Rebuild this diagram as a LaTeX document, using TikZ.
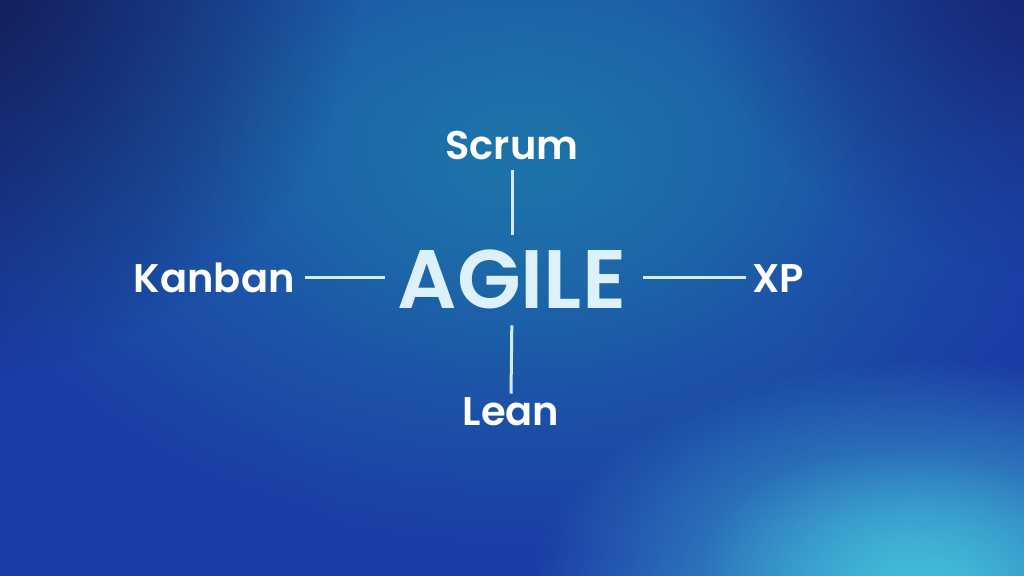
\documentclass[tikz,border=0pt]{standalone}
\usepackage{fontspec}
\setmainfont{Poppins}[UprightFont={Poppins SemiBold}]
\usetikzlibrary{fadings}
\tikzfading[name=glowfade, inner color=transparent!0, outer color=transparent!100]
\definecolor{bgbase}{HTML}{1B3CA5}
\definecolor{navydark}{HTML}{11184A}
\definecolor{navyright}{HTML}{161E66}
\definecolor{tealmid}{HTML}{1E74AA}
\definecolor{cyanglow}{HTML}{45C4DC}
\definecolor{linecol}{HTML}{D4ECFA}
\definecolor{agilecol}{HTML}{DDF1FC}
\tikzset{
  lbl/.style={font=\fontsize{20}{24}\selectfont, text=white, inner sep=0pt, text height=15pt, text depth=0pt},
  big/.style={font=\fontsize{41.5}{48}\selectfont, text=agilecol, inner sep=0pt, text height=31pt, text depth=0pt},
  conn/.style={draw=linecol, line width=1.5pt}
}
\begin{document}
\begin{tikzpicture}[x=0.5pt,y=-0.5pt]
\useasboundingbox (0,0) rectangle (1024,576);
% background
\fill[bgbase] (0,0) rectangle (1024,576);
\begin{scope}
\clip (0,0) rectangle (1024,576);
\fill[tealmid, path fading=glowfade] (520,160) ellipse (600 and 400);
\fill[tealmid, path fading=glowfade, opacity=0.6] (520,140) ellipse (340 and 240);
\fill[navydark, path fading=glowfade, opacity=0.95] (-60,-40) ellipse (420 and 420);
\fill[navyright, path fading=glowfade, opacity=0.9] (1080,-40) ellipse (380 and 320);
\fill[bgbase, path fading=glowfade, opacity=0.6] (-40,580) ellipse (380 and 260);
\fill[bgbase, path fading=glowfade, opacity=0.5] (1060,300) ellipse (260 and 260);
\fill[cyanglow, path fading=glowfade, opacity=0.95] (930,590) ellipse (400 and 230);
\fill[cyanglow, path fading=glowfade, opacity=0.5] (900,560) ellipse (200 and 110);
\end{scope}
% nodes
\node[big] (agile) at (512,278) {AGILE};
\node[lbl] (scrum) at (512,145) {Scrum};
\node[lbl] (lean) at (511,411) {Lean};
\node[lbl, anchor=east] (kanban) at (295,278) {Kanban};
\node[lbl, anchor=west] (xp) at (752,278) {XP};
% connectors
\draw[conn, shorten <=5pt, shorten >=6pt] (scrum.south) -- (agile.north);
\draw[conn, shorten <=8pt, shorten >=1pt] (agile.south) -- (lean.north);
\draw[conn, shorten <=5pt, shorten >=6pt] (kanban.east) -- (agile.west);
\draw[conn, shorten <=8pt, shorten >=3pt] (agile.east) -- (xp.west);
\end{tikzpicture}
\end{document}
